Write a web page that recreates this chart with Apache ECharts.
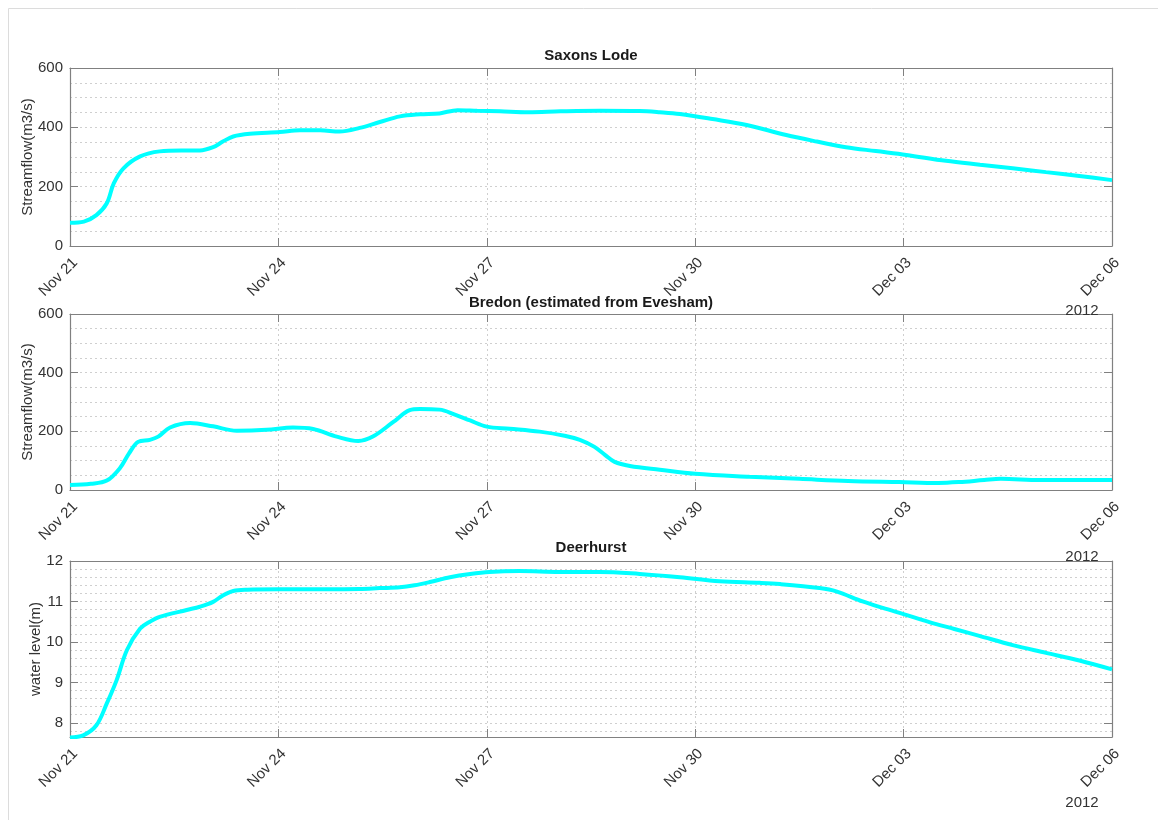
<!DOCTYPE html>
<html>
<head>
<meta charset="utf-8">
<script src="https://cdn.jsdelivr.net/npm/echarts@6/dist/echarts.min.js"></script>
<style>
html,body{margin:0;padding:0;background:#fff;}
#c{width:1158px;height:820px;}
</style>
</head>
<body>
<div id="c"></div>
<script>
// ---- data (days since Nov 21 2012) ----
const tickLabels = ['Nov 21', 'Nov 24', 'Nov 27', 'Nov 30', 'Dec 03', 'Dec 06'];
const yearLabel = '2012';
const titles = ['Saxons Lode', 'Bredon (estimated from Evesham)', 'Deerhurst'];
const yNames = ['Streamflow(m3/s)', 'Streamflow(m3/s)', 'water level(m)'];

const saxonsDays = [0, 0.2, 0.38, 0.53, 0.63, 0.77, 1.01, 1.29, 1.6, 1.87, 2.06, 2.2, 2.35, 2.59, 3.02, 3.31, 3.6, 3.88, 4.17, 4.46, 4.75, 5.04, 5.32, 5.58, 5.86, 6.19, 6.6, 7.06, 7.63, 8.2, 8.49, 8.78, 9.25, 9.74, 10.31, 10.75, 11.17, 11.6, 12.04, 12.61, 13.1, 13.57, 14.05, 14.53, 15];
const saxonsFlow = [78, 82, 104, 144, 211, 262, 302, 319, 322, 322, 333, 352, 369, 378, 384, 390, 390, 386, 398, 418, 437, 444, 447, 458, 456, 454, 451, 454, 456, 455, 451, 445, 428, 408, 374, 352, 333, 320, 307, 287, 274, 262, 249, 236, 222];

const bredonDays = [0, 0.3, 0.53, 0.72, 0.85, 0.98, 1.15, 1.27, 1.44, 1.73, 2.06, 2.4, 2.83, 3.21, 3.5, 3.84, 4.15, 4.36, 4.65, 4.89, 5.04, 5.32, 5.54, 5.76, 6.0, 6.33, 6.76, 7.12, 7.34, 7.55, 7.7, 7.84, 8.06, 8.49, 9.0, 9.78, 10.5, 11.2, 11.94, 12.5, 12.8, 13.16, 13.4, 13.96, 15];
const bredonFlow = [17, 21, 32, 75, 125, 164, 171, 182, 213, 228, 217, 202, 205, 213, 208, 182, 167, 182, 231, 272, 276, 274, 257, 237, 216, 209, 199, 185, 171, 147, 120, 96, 82, 69, 55, 45, 38, 31, 27, 24, 27, 34, 38, 34, 34];

const deerhurstDays = [0, 0.19, 0.38, 0.53, 0.67, 0.82, 1.01, 1.15, 1.29, 1.68, 1.87, 2.06, 2.2, 2.35, 2.55, 3.0, 3.74, 4.17, 4.46, 4.75, 4.96, 5.18, 5.47, 5.76, 6.04, 6.47, 7.05, 7.63, 8.2, 8.78, 9.35, 9.93, 10.22, 10.79, 11.03, 11.41, 11.7, 12.01, 12.37, 12.73, 13.09, 13.57, 14.05, 14.53, 15];
const deerhurstLevel = [7.64, 7.69, 7.94, 8.48, 9.05, 9.8, 10.33, 10.5, 10.62, 10.79, 10.87, 10.99, 11.15, 11.26, 11.29, 11.3, 11.3, 11.31, 11.33, 11.35, 11.4, 11.48, 11.6, 11.68, 11.73, 11.75, 11.73, 11.73, 11.68, 11.6, 11.5, 11.46, 11.43, 11.33, 11.25, 11.0, 10.84, 10.68, 10.49, 10.32, 10.15, 9.92, 9.73, 9.54, 9.32];

// ---- chart ----
const FONT = 'Liberation Sans, Arial, Helvetica, sans-serif';
const AXIS_COLOR = '#808080';
const GRID_COLOR = '#cfcfcf';
const pairs = (xs, ys) => xs.map((x, i) => [x, ys[i]]);

const grids = [
  {left: 70, top: 68, width: 1042, height: 178},
  {left: 70, top: 314, width: 1042, height: 176},
  {left: 70, top: 561, width: 1042, height: 176}
];

const dotted = {show: true, lineStyle: {color: GRID_COLOR, type: [2, 3], width: 1}};

const xAxes = [];
grids.forEach((g, i) => {
  xAxes.push({
    type: 'value', gridIndex: i, position: 'bottom', min: 0, max: 15, interval: 3,
    axisLine: {show: true, onZero: false, lineStyle: {color: AXIS_COLOR, width: 1.2}},
    axisTick: {show: true, inside: true, length: 8, lineStyle: {color: AXIS_COLOR}},
    axisLabel: {rotate: 45, margin: 9, verticalAlign: 'top', fontSize: 15, color: '#333', fontFamily: FONT,
      formatter: v => tickLabels[Math.round(v / 3)]},
    splitLine: dotted
  });
  xAxes.push({
    type: 'value', gridIndex: i, position: 'top', min: 0, max: 15, interval: 3,
    axisLine: {show: true, onZero: false, lineStyle: {color: AXIS_COLOR, width: 1.2}},
    axisTick: {show: true, inside: true, length: 8, lineStyle: {color: AXIS_COLOR}},
    axisLabel: {show: false}, splitLine: {show: false}
  });
});

function leftAxis(i, extra) {
  return Object.assign({
    type: 'value', gridIndex: i, position: 'left',
    name: yNames[i], nameLocation: 'middle', nameGap: i === 2 ? 27 : 35,
    nameMoveOverlap: false,
    nameTextStyle: {fontSize: 15, color: '#333', fontFamily: FONT},
    axisLine: {show: true, onZero: false, lineStyle: {color: AXIS_COLOR, width: 1.2}},
    axisTick: {show: true, inside: true, length: 8, lineStyle: {color: AXIS_COLOR}},
    axisLabel: {margin: 7, fontSize: 15, color: '#333', fontFamily: FONT},
    splitLine: dotted
  }, extra);
}
function rightAxis(i, extra) {
  return Object.assign({
    type: 'value', gridIndex: i, position: 'right',
    axisLine: {show: true, onZero: false, lineStyle: {color: AXIS_COLOR, width: 1.2}},
    axisTick: {show: true, inside: true, length: 8, lineStyle: {color: AXIS_COLOR}},
    axisLabel: {show: false}, splitLine: {show: false}
  }, extra);
}

const flowRange = {min: 0, max: 600, interval: 200};
const levelRange = {min: 7.65, max: 12, splitNumber: 4, minInterval: 1, maxInterval: 1};

const yAxes = [
  leftAxis(0, Object.assign({}, flowRange, {minorTick: {show: false, splitNumber: 4}, minorSplitLine: dotted})),
  rightAxis(0, flowRange),
  leftAxis(1, Object.assign({}, flowRange, {minorTick: {show: false, splitNumber: 4}, minorSplitLine: dotted})),
  rightAxis(1, flowRange),
  leftAxis(2, Object.assign({}, levelRange, {axisLabel: {margin: 7, fontSize: 15, color: '#333', fontFamily: FONT, showMinLabel: false}})),
  rightAxis(2, levelRange),
  {
    type: 'value', gridIndex: 2, position: 'left', min: 7.65, max: 12,
    splitNumber: 22, minInterval: 0.2, maxInterval: 0.2,
    axisLine: {show: false}, axisTick: {show: false}, axisLabel: {show: false},
    splitLine: dotted
  }
];

const lineSeries = (data, xi, yi) => ({
  type: 'line', data: data, xAxisIndex: xi, yAxisIndex: yi,
  showSymbol: false, smooth: 0.35, z: 5, animation: false,
  lineStyle: {color: '#00ffff', width: 4}, itemStyle: {color: '#00ffff'}
});

const titleY = [56, 303, 548];
const yearY = [311, 557, 803];
const graphics = [
  {type: 'rect', shape: {x: 8.5, y: 8.5, width: 1200, height: 900}, style: {fill: 'none', stroke: '#dcdcdc', lineWidth: 1}, silent: true}
];
titles.forEach((t, i) => {
  graphics.push({type: 'text', x: 591, y: titleY[i], z: 10,
    style: {text: t, fontSize: 15, fontWeight: 'bold', fill: '#1a1a1a', fontFamily: FONT, align: 'center', verticalAlign: 'middle'}});
  graphics.push({type: 'text', x: 1082, y: yearY[i], z: 10,
    style: {text: yearLabel, fontSize: 15, fill: '#333', fontFamily: FONT, align: 'center', verticalAlign: 'middle'}});
});

const chart = echarts.init(document.getElementById('c'), null, {renderer: 'canvas'});
chart.setOption({
  backgroundColor: '#ffffff',
  animation: false,
  grid: grids,
  xAxis: xAxes,
  yAxis: yAxes,
  series: [
    lineSeries(pairs(saxonsDays, saxonsFlow), 0, 0),
    lineSeries(pairs(bredonDays, bredonFlow), 2, 2),
    lineSeries(pairs(deerhurstDays, deerhurstLevel), 4, 4)
  ],
  graphic: graphics
});
</script>
</body>
</html>
